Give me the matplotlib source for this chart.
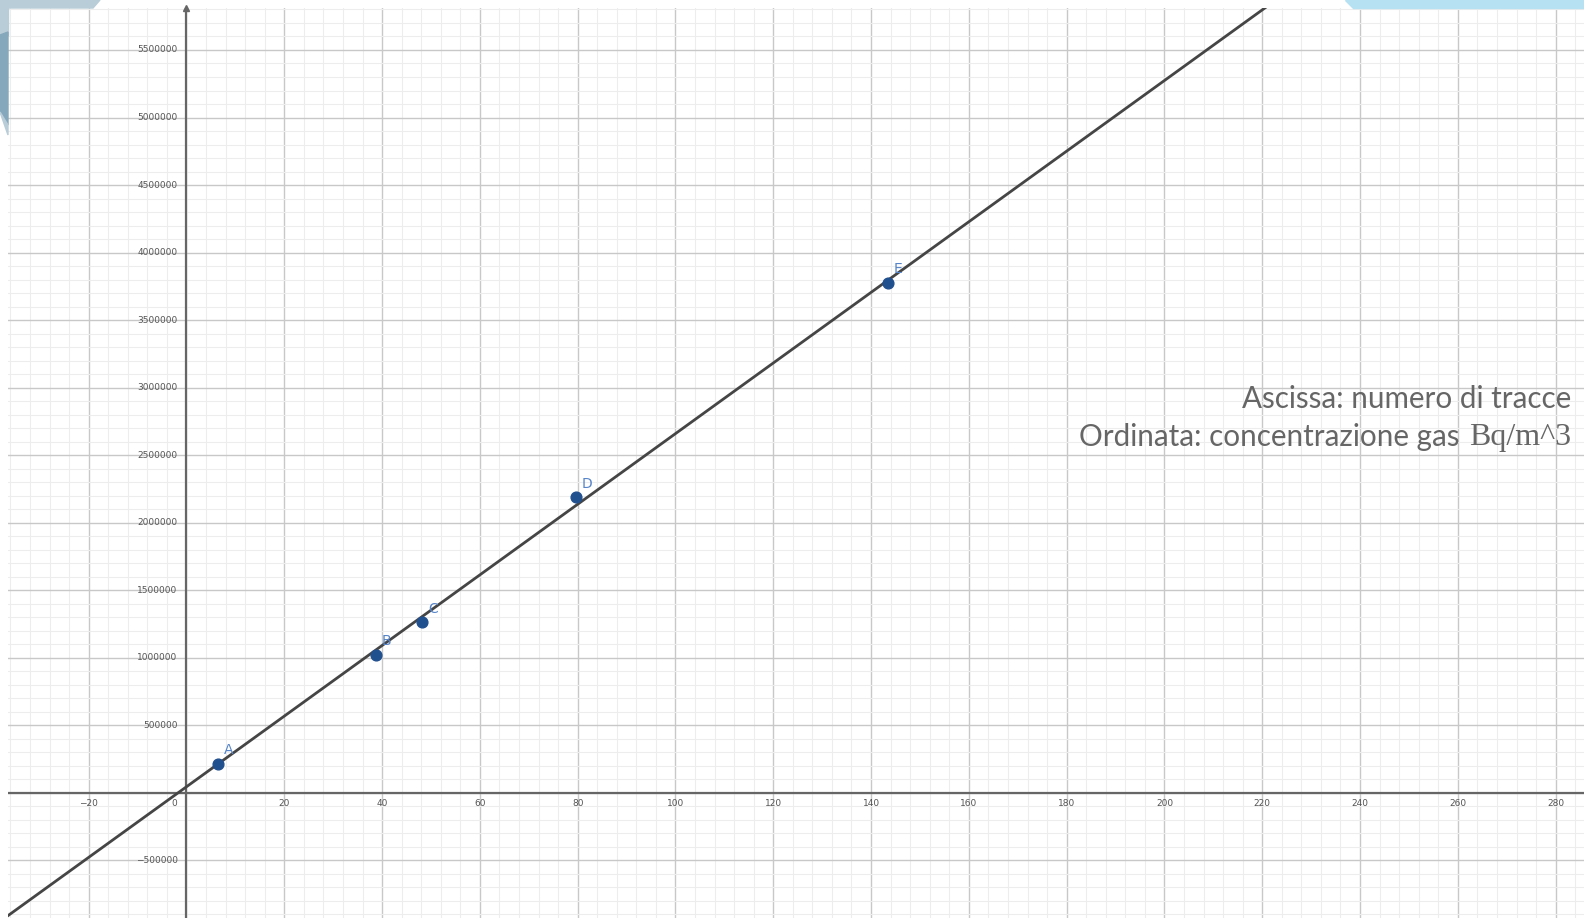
import matplotlib
matplotlib.use('Agg')
import matplotlib.pyplot as plt
from matplotlib.patches import Polygon
from matplotlib.ticker import MultipleLocator
import numpy as np

# points (numero di tracce, concentrazione Bq/m^3)
point_names = ['A', 'B', 'C', 'D', 'E']
tracce = [6.5, 38.7, 48.2, 79.6, 143.5]
conc = [214800, 1023000, 1262000, 2190000, 3776000]

# straight line drawn through the points
fit_slope = 26150.0
fit_intercept = 44000.0

x_ticks = [-20, 20, 40, 60, 80, 100, 120, 140, 160, 180, 200, 220, 240, 260, 280]
y_ticks = [-500000, 500000, 1000000, 1500000, 2000000, 2500000, 3000000,
           3500000, 4000000, 4500000, 5000000, 5500000]

W, H = 1584, 918
fig = plt.figure(figsize=(W/100, H/100), dpi=100)

# slide decorations behind the screenshot
fig.patches.append(Polygon([(0, 1), (100/W, 1), (93/W, 1-8/H), (0, 1-8/H)],
                           closed=True, transform=fig.transFigure, color='#b9cdd8', zorder=0))
fig.patches.append(Polygon([(0, 1), (8/W, 1), (8/W, 1-35/H), (0, 1-35/H)],
                           closed=True, transform=fig.transFigure, color='#b9cdd8', zorder=0))
fig.patches.append(Polygon([(0, 1-35/H), (8/W, 1-32/H), (8/W, 1-125/H), (0, 1-112/H)],
                           closed=True, transform=fig.transFigure, color='#86a8bc', zorder=0))
fig.patches.append(Polygon([(0, 1-112/H), (8/W, 1-125/H), (8/W, 1-135/H)],
                           closed=True, transform=fig.transFigure, color='#b9cdd8', zorder=0))
fig.patches.append(Polygon([(1345/W, 1), (1, 1), (1, 1-8/H), (1353/W, 1-8/H)],
                           closed=True, transform=fig.transFigure, color='#b6e1f2', zorder=0))

ax = fig.add_axes([8/W, 0, 1-8/W, 1-8/H])
ax.set_xlim(-36.5, 285.8)
ax.set_ylim(-928000, 5811000)

ax.xaxis.set_major_locator(MultipleLocator(20))
ax.xaxis.set_minor_locator(MultipleLocator(4))
ax.yaxis.set_major_locator(MultipleLocator(500000))
ax.yaxis.set_minor_locator(MultipleLocator(100000))
ax.grid(which='major', color='#c8c8c8', linewidth=1.0)
ax.grid(which='minor', color='#ededed', linewidth=0.8)
ax.set_axisbelow(True)
ax.tick_params(which='both', length=0, labelbottom=False, labelleft=False)
for s in ax.spines.values():
    s.set_visible(False)

# axes lines
ax.axhline(0, color='#666666', linewidth=1.6, zorder=2)
ax.axvline(0, color='#666666', linewidth=1.6, zorder=2)
ax.plot([0], [5811000], marker='^', color='#666666', markersize=5, clip_on=False, zorder=2)

# tick labels like geogebra
for xv in x_ticks:
    ax.text(xv, -50000, str(xv).replace('-', '\u2212'), ha='center', va='top',
            fontsize=6.5, color='#555555')
ax.text(-2.5, -50000, '0', ha='center', va='top', fontsize=6.5, color='#555555')
for yv in y_ticks:
    ax.text(-1.8, yv, str(yv).replace('-', '\u2212'), ha='right', va='center',
            fontsize=6.5, color='#555555')

# line
xx = np.array(ax.get_xlim())
ax.plot(xx, fit_slope*xx + fit_intercept, color='#454545', linewidth=2.0, zorder=3)

# points
ax.scatter(tracce, conc, s=60, color='#21508f', zorder=4)
for n, xv, yv in zip(point_names, tracce, conc):
    ax.text(xv + 1.2, yv + 70000, n, fontsize=10, color='#5584c8', zorder=5)

# caption text
fs = 21.3
t1 = fig.text(1571/W, 1-399/H, 'Ascissa: numero di tracce', ha='right', va='center',
              fontsize=fs, family='Lato', color='#666666')
t2 = fig.text(1571/W, 1-437/H, 'Bq/m^3', ha='right', va='center',
              fontsize=23, family='Liberation Serif', color='#666666')
r = fig.canvas.get_renderer()
bb = t2.get_window_extent(r)
fig.text(bb.x0/W - 9/W, 1-437/H, 'Ordinata: concentrazione gas', ha='right', va='center',
         fontsize=fs, family='Lato', color='#666666')

fig.savefig('out.png', dpi=100)
